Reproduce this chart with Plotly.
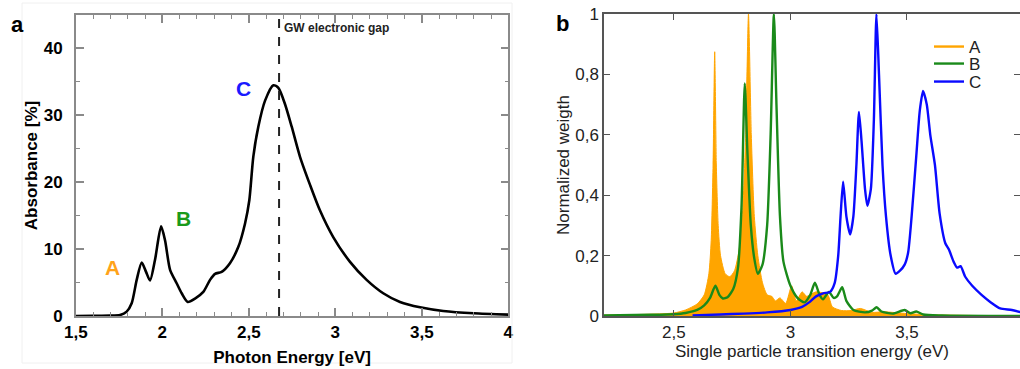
import plotly.graph_objects as go

# ---------------- Panel a: absorbance ----------------
abs_energy = [1.5, 1.6, 1.698, 1.756, 1.794, 1.823, 1.852, 1.881, 1.906, 1.929, 1.958, 1.993,
              2.016, 2.045, 2.083, 2.112, 2.147, 2.189, 2.237, 2.276, 2.305, 2.343, 2.391,
              2.439, 2.478, 2.503, 2.526, 2.555, 2.594, 2.642, 2.671, 2.709, 2.748, 2.796,
              2.854, 2.911, 2.988, 3.085, 3.181, 3.277, 3.374, 3.49, 3.624, 3.80, 4.0]
absorbance = [0.0, 0.02, 0.05, 0.15, 0.65, 1.9, 5.4, 8.0, 6.6, 5.3, 8.4, 13.4,
              11.3, 6.9, 4.9, 3.4, 2.1, 2.6, 3.6, 5.4, 6.3, 6.6, 7.9,
              10.3, 13.8, 17.3, 23.8, 28.3, 32.2, 34.5, 34.1, 31.7, 28.3, 23.8,
              19.6, 15.8, 11.8, 8.1, 5.4, 3.4, 2.1, 1.3, 0.75, 0.4, 0.2]
gw_gap = 2.675
peak_labels = ["A", "B", "C"]
peak_label_x = [1.715, 2.12, 2.47]
peak_label_y = [7.3, 14.6, 34.0]
peak_label_colors = ["#ffa31a", "#1a9a1a", "#1a1aff"]

# ---------------- Panel b: normalized weights ----------------
a_x = [2.2, 2.4, 2.5, 2.55, 2.6, 2.63, 2.65, 2.66, 2.668, 2.675, 2.682, 2.69, 2.70, 2.72,
       2.74, 2.76, 2.78, 2.795, 2.808, 2.82, 2.832, 2.845, 2.86, 2.88, 2.9, 2.92, 2.935,
       2.955, 2.98, 3.005, 3.025, 3.05, 3.07, 3.11, 3.16, 3.18, 3.22, 3.26, 3.3, 3.35,
       3.4, 3.5, 3.6, 4.0]
a_y = [0.003, 0.006, 0.01, 0.02, 0.04, 0.07, 0.14, 0.25, 0.5, 0.875, 0.5, 0.3, 0.2, 0.14,
       0.13, 0.15, 0.22, 0.35, 0.6, 1.0, 0.6, 0.33, 0.2, 0.11, 0.07, 0.065, 0.05,
       0.06, 0.042, 0.1, 0.05, 0.08, 0.065, 0.08, 0.07, 0.03, 0.018, 0.018, 0.025, 0.012,
       0.014, 0.008, 0.004, 0.0]

b_x = [2.2, 2.4, 2.5, 2.55, 2.6, 2.63, 2.655, 2.678, 2.695, 2.71, 2.73, 2.755, 2.775, 2.79,
       2.804, 2.815, 2.83, 2.845, 2.86, 2.88, 2.9, 2.915, 2.929, 2.94, 2.955, 2.97, 3.0,
       3.03, 3.06, 3.085, 3.105, 3.125, 3.14, 3.165, 3.185, 3.2, 3.222, 3.24, 3.27, 3.32,
       3.35, 3.37, 3.39, 3.44, 3.49, 3.515, 3.54, 3.57, 3.65, 4.0]
b_y = [0.002, 0.004, 0.006, 0.01, 0.02, 0.035, 0.06, 0.10, 0.07, 0.058, 0.062, 0.09, 0.16, 0.36,
       0.77, 0.55, 0.30, 0.19, 0.14, 0.17, 0.30, 0.6, 1.0, 0.7, 0.33, 0.18, 0.10,
       0.06, 0.045, 0.07, 0.11, 0.07, 0.055, 0.08, 0.06, 0.065, 0.095, 0.05, 0.02, 0.012,
       0.018, 0.029, 0.015, 0.008, 0.02, 0.009, 0.015, 0.005, 0.002, 0.0]

c_x = [2.58, 2.7, 2.8, 2.9, 3.0, 3.05, 3.08, 3.11, 3.14, 3.17, 3.19, 3.205, 3.215, 3.226,
       3.24, 3.256, 3.27, 3.283, 3.294, 3.305, 3.32, 3.33, 3.345, 3.358, 3.369, 3.38,
       3.395, 3.41, 3.43, 3.451, 3.47, 3.49, 3.505, 3.52, 3.54, 3.555, 3.569, 3.585, 3.6,
       3.62, 3.64, 3.665, 3.68, 3.70, 3.715, 3.73, 3.75, 3.78, 3.82, 3.86, 3.9, 3.95, 4.0]
c_y = [0.002, 0.005, 0.008, 0.012, 0.02, 0.03, 0.045, 0.065, 0.075, 0.08, 0.11, 0.2, 0.33, 0.445,
       0.33, 0.27, 0.33, 0.5, 0.676, 0.58, 0.42, 0.365, 0.42, 0.65, 1.0, 0.8,
       0.5, 0.33, 0.2, 0.14, 0.15, 0.17, 0.21, 0.33, 0.53, 0.68, 0.745, 0.7, 0.6,
       0.5, 0.34, 0.24, 0.22, 0.18, 0.16, 0.165, 0.13, 0.10, 0.07, 0.045, 0.025, 0.02, 0.01]

series_names = ["A", "B", "C"]
series_colors = ["#ffa500", "#1a8a1a", "#0a0aff"]
legend_rows_px = [47, 64, 82]

FONT = "Liberation Sans, Arial, Helvetica, sans-serif"

fig = go.Figure()

fig.add_trace(go.Scatter(x=abs_energy, y=absorbance, mode="lines",
                         line=dict(color="black", width=2.6, shape="spline", smoothing=0.7),
                         showlegend=False, xaxis="x", yaxis="y"))

# panel b traces
fig.add_trace(go.Scatter(x=a_x, y=a_y, mode="lines", fill="tozeroy",
                         fillcolor=series_colors[0],
                         line=dict(color=series_colors[0], width=1, shape="spline", smoothing=0.6),
                         showlegend=False, xaxis="x2", yaxis="y2"))
fig.add_trace(go.Scatter(x=b_x, y=b_y, mode="lines",
                         line=dict(color=series_colors[1], width=2.4, shape="spline", smoothing=0.6),
                         showlegend=False, xaxis="x2", yaxis="y2"))
fig.add_trace(go.Scatter(x=c_x, y=c_y, mode="lines",
                         line=dict(color=series_colors[2], width=2.4, shape="spline", smoothing=0.6),
                         showlegend=False, xaxis="x2", yaxis="y2"))

W, H = 1020, 369
def px(x): return x / W
def py(y): return 1 - y / H

# legend entries (line samples), one legend per row for tight spacing
legend_keys = ["legend", "legend2", "legend3"]
for name, col, lk in zip(series_names, series_colors, legend_keys):
    fig.add_trace(go.Scatter(x=[None], y=[None], mode="lines", name=name, legend=lk,
                             line=dict(color=col, width=2.4), xaxis="x2", yaxis="y2"))

axis_a_common = dict(ticks="inside", showline=True, linecolor="#8a8a8a", linewidth=1.5,
                     tickcolor="#8a8a8a", tickwidth=1.5, ticklen=8, mirror="allticks",
                     showgrid=False, zeroline=False, automargin=False,
                     tickfont=dict(family=FONT, size=17, color="black", weight="bold"))

legend_common = dict(xanchor="left", yanchor="middle", bgcolor="rgba(0,0,0,0)",
                     font=dict(family=FONT, size=17, color="#222"), itemwidth=30,
                     borderwidth=0)

fig.update_layout(
    width=W, height=H, margin=dict(l=0, r=0, t=0, b=0, autoexpand=False),
    paper_bgcolor="white", plot_bgcolor="white",
    separators=",.",
    xaxis=dict(domain=[px(75.8), px(508.3)], range=[1.5, 4], dtick=0.5, tick0=1.5,
               minor=dict(dtick=0.1, ticks="inside", ticklen=4, tickcolor="#8a8a8a", tickwidth=1.2),
               title=dict(text="Photon Energy [eV]", standoff=10,
                          font=dict(family=FONT, size=17, color="black", weight="bold")),
               anchor="y", **axis_a_common),
    yaxis=dict(domain=[py(316), py(15)], range=[0, 45], dtick=10,
               minor=dict(dtick=5, ticks="inside", ticklen=4, tickcolor="#8a8a8a", tickwidth=1.2),
               ticklabelstandoff=8,
               title=dict(text="Absorbance [%]", standoff=2,
                          font=dict(family=FONT, size=17, color="black", weight="bold")),
               anchor="x", **axis_a_common),
    xaxis2=dict(domain=[px(604), 1.0], range=[2.2, 3.985], dtick=0.5, tick0=2.5,
                ticks="inside", ticklen=6, tickcolor="#555", tickwidth=1.3,
                showline=True, linecolor="#555", linewidth=1.5, mirror="allticks",
                showgrid=False, zeroline=False, automargin=False,
                tickfont=dict(family=FONT, size=17, color="#222"),
                title=dict(text="Single particle transition energy (eV)", standoff=0,
                           font=dict(family=FONT, size=17, color="#222")),
                anchor="y2"),
    yaxis2=dict(domain=[py(316), py(14)], range=[0, 1], dtick=0.2,
                ticks="inside", ticklen=6, tickcolor="#555", tickwidth=1.3,
                showline=True, linecolor="#555", linewidth=1.5, mirror="allticks",
                showgrid=False, zeroline=False, automargin=False,
                tickfont=dict(family=FONT, size=17, color="#222"),
                title=dict(text="Normalized weigth", standoff=1,
                           font=dict(family=FONT, size=17, color="#222")),
                anchor="x2"),
    legend=dict(x=px(929), y=py(legend_rows_px[0]), **legend_common),
    legend2=dict(x=px(929), y=py(legend_rows_px[1]), **legend_common),
    legend3=dict(x=px(929), y=py(legend_rows_px[2]), **legend_common),
    showlegend=True,
)

# GW gap dashed line
fig.add_shape(type="line", xref="x", yref="y", x0=gw_gap, x1=gw_gap, y0=0, y1=45,
              line=dict(color="#222", width=2, dash="dash"))
fig.add_annotation(x=gw_gap, xref="x", y=py(28), yref="paper", text="GW electronic gap",
                   showarrow=False, xanchor="left", yanchor="middle", xshift=3,
                   font=dict(family=FONT, size=12, color="#222", weight="bold"))

for t, xx, yy, c in zip(peak_labels, peak_label_x, peak_label_y, peak_label_colors):
    fig.add_annotation(x=xx, y=yy, xref="x", yref="y", text=t, showarrow=False,
                       xanchor="center", yanchor="middle",
                       font=dict(family=FONT, size=21, color=c, weight="bold"))

# panel letters
fig.add_annotation(x=px(17), y=py(24), xref="paper", yref="paper", text="a", showarrow=False,
                   xanchor="center", yanchor="middle",
                   font=dict(family=FONT, size=22, color="black", weight="bold"))
fig.add_annotation(x=px(562), y=py(23), xref="paper", yref="paper", text="b", showarrow=False,
                   xanchor="center", yanchor="middle",
                   font=dict(family=FONT, size=22, color="black", weight="bold"))

# faint frame around panel a
fig.add_shape(type="rect", xref="paper", yref="paper", x0=px(22), x1=px(512), y0=py(363), y1=py(3),
              line=dict(color="#f0f0f0", width=1))

# remove the browser's default page margin so the figure sits at the window origin
fig.write_html("out.html", config={"displayModeBar": False},
               post_script="document.body.style.margin='0';document.body.style.overflow='hidden';")
